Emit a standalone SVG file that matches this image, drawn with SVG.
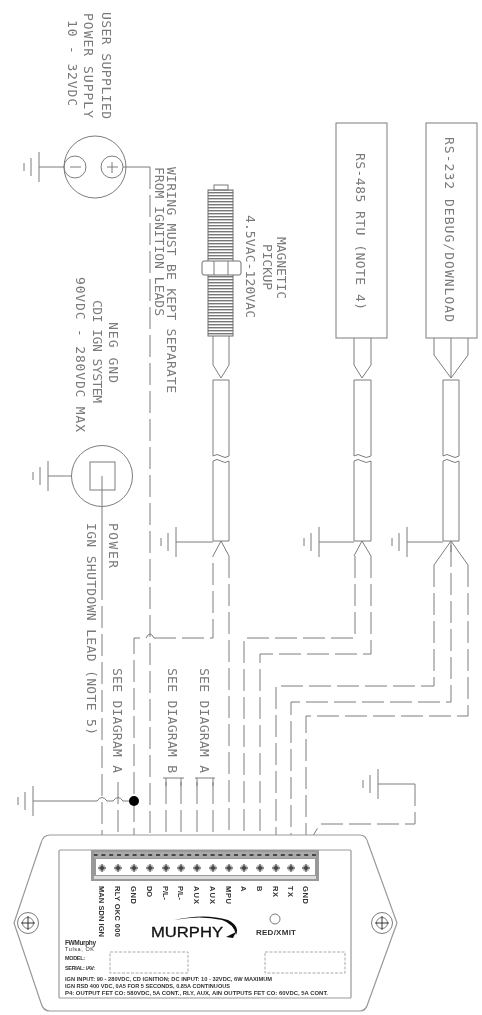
<svg xmlns="http://www.w3.org/2000/svg" xmlns:xlink="http://www.w3.org/1999/xlink" width="482" height="1015" viewBox="0 0 482 1015">
<style>
.l{fill:none;stroke:#7c7c7c;stroke-width:1}
.d{fill:none;stroke:#7c7c7c;stroke-width:1;stroke-dasharray:22 6}
.t{font-family:"DejaVu Sans Mono",monospace;font-size:13px;fill:#7a7a7a}
.k{font-family:"Liberation Sans",Arial,sans-serif;font-weight:bold;fill:#333}
</style>
<defs>
<filter id="soft" x="0" y="0" width="100%" height="100%" filterUnits="userSpaceOnUse" primitiveUnits="userSpaceOnUse"><feGaussianBlur stdDeviation="0.55"/></filter>
<pattern id="thr" width="4" height="3" patternUnits="userSpaceOnUse"><rect width="4" height="3" fill="#fff"/><rect width="4" height="1.4" fill="#777"/></pattern>
<pattern id="strip" width="7.8" height="6" patternUnits="userSpaceOnUse"><rect width="7.8" height="6" fill="#aaa"/><rect width="4" height="2" y="2" fill="#444"/></pattern>
<g id="gnd" class="l"><path d="M0-15V15M-8-9V9M-15-4V4"/></g>
<g id="scr"><circle r="3.6" fill="#bbb"/><path d="M-4 0H4M0-4V4" stroke="#444" stroke-width="1"/><circle r="2" fill="#444"/></g>
<g id="mnt" class="l"><circle r="10.5"/><circle r="5.5"/><path d="M-7 0H7M0-7V7" stroke="#333"/></g>
</defs>
<g filter="url(#soft)">
<g id="connectors">
<path class="l" d="M64 167H39M123 167H150"/>
<path class="d" d="M150 167V850"/>
<path class="l" d="M72 476H48M102 476V578"/>
<path class="d" d="M102 578V850"/>
<path class="d" d="M118 782V850"/>
<path class="d" d="M134 850V638H146"/>
<path class="l" d="M146 638Q150 630 154 638"/>
<path class="d" d="M154 638H213V556"/>
<path class="d" d="M229 556V850"/>
<path class="d" d="M355 556V638H244V850"/>
<path class="d" d="M371 556V654H260V850"/>
<path class="d" d="M434 565V686H276V850"/>
<path class="d" d="M451 545V702H291V850"/>
<path class="d" d="M468 565V716H306V850"/>
<path class="d" d="M166 782V850M181 782V850M197 782V850M213 782V850"/>
<path class="l" d="M163 778H184M195 778H215M166 778V786M181 778V786M197 778V786M213 778V786"/>
<path class="l" d="M33 801H97Q102 794 107 801H113Q118 794 123 801H134"/>
<circle cx="134" cy="801" r="5" fill="#000"/>
<path class="l" d="M378 784H415M176 542H213M319 542H354M407 542H443"/>
<path class="d" d="M415 784V824H320L307 846"/>
</g>
<g id="ground-symbols">
<use href="#gnd" x="39" y="167"/>
<use href="#gnd" x="48" y="476"/>
<use href="#gnd" x="176" y="542"/>
<use href="#gnd" x="319" y="542"/>
<use href="#gnd" x="407" y="542"/>
<use href="#gnd" x="33" y="801"/>
<use href="#gnd" x="378" y="784"/>
</g>
<g id="power-supply">
<circle class="l" cx="95" cy="167" r="31"/>
<circle class="l" cx="75" cy="167" r="11"/>
<circle class="l" cx="112" cy="167" r="11"/>
<path class="l" d="M70 167H81M107 167H118M112 162V173"/>
<text class="t" transform="translate(102 12) rotate(90)" textLength="107">USER SUPPLIED</text>
<text class="t" transform="translate(84 13) rotate(90)" textLength="105">POWER SUPPLY</text>
<text class="t" transform="translate(68 20) rotate(90)" textLength="86">10 - 32VDC</text>
</g>
<g id="wiring-note">
<text class="t" transform="translate(167 167) rotate(90)" textLength="226">WIRING MUST BE KEPT SEPARATE</text>
<text class="t" transform="translate(155 167) rotate(90)" textLength="149">FROM IGNITION LEADS</text>
</g>
<g id="ignition">
<circle class="l" cx="102" cy="476" r="30.5"/>
<rect class="l" x="90" y="462" width="25" height="28"/>
<text class="t" transform="translate(109 322) rotate(90)" textLength="61">NEG GND</text>
<text class="t" transform="translate(93 300) rotate(90)" textLength="103">CDI IGN SYSTEM</text>
<text class="t" transform="translate(76 277) rotate(90)" textLength="155">90VDC - 280VDC MAX</text>
<text class="t" transform="translate(109 523) rotate(90)" textLength="45">POWER</text>
<text class="t" transform="translate(87 523) rotate(90)" textLength="212">IGN SHUTDOWN LEAD (NOTE 5)</text>
</g>
<g id="magnetic-pickup">
<rect x="208" y="190" width="25" height="146" fill="url(#thr)" stroke="#6f6f6f"/>
<rect class="l" x="214" y="185" width="14" height="5" fill="#ddd"/>
<rect x="202" y="261" width="39" height="14" rx="2" fill="#fff" stroke="#6f6f6f"/>
<path class="l" d="M214 261V275M228 261V275"/>
<path class="l" d="M213 336V365L221 378L229 365V336"/>
<path class="l" d="M213 380H229M213 380V456Q217 453 221 456T229 456V380M213 461Q217 458 221 461T229 461M213 461V541M229 461V541M213 541H229M221 541L213 556M221 541L229 556"/>
<text class="t" transform="translate(277 237) rotate(90)" textLength="62">MAGNETIC</text>
<text class="t" transform="translate(263 244) rotate(90)" textLength="46">PICKUP</text>
<text class="t" transform="translate(246 215) rotate(90)" textLength="103">4.5VAC-120VAC</text>
</g>
<g id="rs485">
<rect class="l" x="336" y="123" width="51" height="215"/>
<text class="t" transform="translate(356 153) rotate(90)" textLength="157">RS-485 RTU (NOTE 4)</text>
<path class="l" d="M354 338V365L362 378L371 365V338"/>
<path class="l" d="M354 380H371M354 380V456Q358 453 362 456T371 456V380M354 461Q358 458 362 461T371 461M354 461V541M371 461V541M354 541H371M362 541L354 556M362 541L371 556"/>
</g>
<g id="rs232">
<rect class="l" x="426" y="123" width="51" height="215"/>
<text class="t" transform="translate(445 137) rotate(90)" textLength="185">RS-232 DEBUG/DOWNLOAD</text>
<path class="l" d="M434 338V355L451 378L468 355V338M451 338V378"/>
<path class="l" d="M443 380H459M443 380V456Q447 453 451 456T459 456V380M443 461Q447 458 451 461T459 461M443 461V541M459 461V541M443 541H459M451 541L434 565M451 541L468 565M451 541V552"/>
</g>
<g id="diagram-notes">
<text class="t" transform="translate(113 668) rotate(90)" textLength="105">SEE DIAGRAM A</text>
<text class="t" transform="translate(168 668) rotate(90)" textLength="105">SEE DIAGRAM B</text>
<text class="t" transform="translate(200 668) rotate(90)" textLength="105">SEE DIAGRAM A</text>
</g>
<g id="controller">
<path d="M14 923L41 843Q43 835 50 835H360Q366 835 368 843L397 923L368 1003Q366 1011 360 1011H50Q43 1011 41 1003Z" fill="#fff" stroke="#999" stroke-width="1.2"/>
<rect x="59" y="850" width="292" height="148" rx="1" fill="#fff" stroke="#999" stroke-width="1.2"/>
<use href="#mnt" x="28" y="923"/>
<use href="#mnt" x="382" y="923"/>
<g id="terminal-block">
<rect x="91" y="850" width="228" height="31" fill="#999"/>
<rect x="94" y="852" width="222" height="6" fill="url(#strip)"/>
<rect x="94" y="876" width="222" height="3" fill="#ddd"/>
<rect x="96" y="859" width="219" height="16" fill="#fff"/>
<use href="#scr" x="102" y="868"/><use href="#scr" x="118" y="868"/><use href="#scr" x="134" y="868"/><use href="#scr" x="150" y="868"/><use href="#scr" x="166" y="868"/><use href="#scr" x="181" y="868"/><use href="#scr" x="197" y="868"/><use href="#scr" x="213" y="868"/><use href="#scr" x="229" y="868"/><use href="#scr" x="244" y="868"/><use href="#scr" x="260" y="868"/><use href="#scr" x="276" y="868"/><use href="#scr" x="291" y="868"/><use href="#scr" x="306" y="868"/>
</g>
<g class="k" font-size="7.5">
<text transform="translate(99 886) rotate(90)" textLength="51">MAN SDN IGN</text>
<text transform="translate(115 886) rotate(90)" textLength="51">RLY OKC 000</text>
<text transform="translate(131 886) rotate(90)" textLength="18">GND</text>
<text transform="translate(147 886) rotate(90)" textLength="11">DO</text>
<text transform="translate(163 886) rotate(90)" textLength="14">P/L-</text>
<text transform="translate(178 886) rotate(90)" textLength="14">P/L-</text>
<text transform="translate(194 886) rotate(90)" textLength="18">AUX</text>
<text transform="translate(210 886) rotate(90)" textLength="18">AUX</text>
<text transform="translate(226 886) rotate(90)" textLength="18">MPU</text>
<text transform="translate(241 886) rotate(90)">A</text>
<text transform="translate(257 886) rotate(90)">B</text>
<text transform="translate(273 886) rotate(90)" textLength="11">RX</text>
<text transform="translate(288 886) rotate(90)" textLength="11">TX</text>
<text transform="translate(303 886) rotate(90)" textLength="18">GND</text>
</g>
<text x="151" y="937" font-family="Liberation Sans,Arial,sans-serif" font-size="14" fill="#111" textLength="72" lengthAdjust="spacingAndGlyphs" stroke="#111" stroke-width="0.3">MURPHY</text>
<path d="M174 920Q205 913 228 920Q240 926 236 935Q234 924 222 920Q200 915 174 920Z" fill="#111"/>
<path d="M226 937L236 932L233 938Z" fill="#111"/>
<circle class="l" cx="275" cy="919" r="5"/>
<text class="k" x="256" y="935" font-size="8" textLength="40">RED/XMIT</text>
<rect x="110" y="952" width="78" height="21" fill="none" stroke="#aaa" stroke-dasharray="3 1.5"/>
<rect x="265" y="952" width="80" height="21" fill="none" stroke="#aaa" stroke-dasharray="3 1.5"/>
<g class="k" font-size="5.5">
<text x="65" y="945" font-size="6.5" textLength="31">FWMurphy</text>
<text x="65" y="951" font-weight="normal" textLength="29">Tulsa, OK</text>
<text x="65" y="960" textLength="20">MODEL:</text>
<text x="65" y="970" textLength="30">SERIAL: /AV:</text>
<text x="65" y="981" textLength="207" lengthAdjust="spacingAndGlyphs">IGN INPUT: 90 - 280VDC, CD IGNITION; DC INPUT: 10 - 32VDC, 6W MAXIMUM</text>
<text x="65" y="988" textLength="165" lengthAdjust="spacingAndGlyphs">IGN RSD 400 VDC, 0A5 FOR 5 SECONDS, 0.85A CONTINUOUS</text>
<text x="65" y="995" textLength="263" lengthAdjust="spacingAndGlyphs">P4: OUTPUT FET CO: 580VDC, 5A CONT., RLY, AUX, AIN OUTPUTS FET CO: 60VDC, 5A CONT.</text>
</g>
</g>
</g>
</svg>
